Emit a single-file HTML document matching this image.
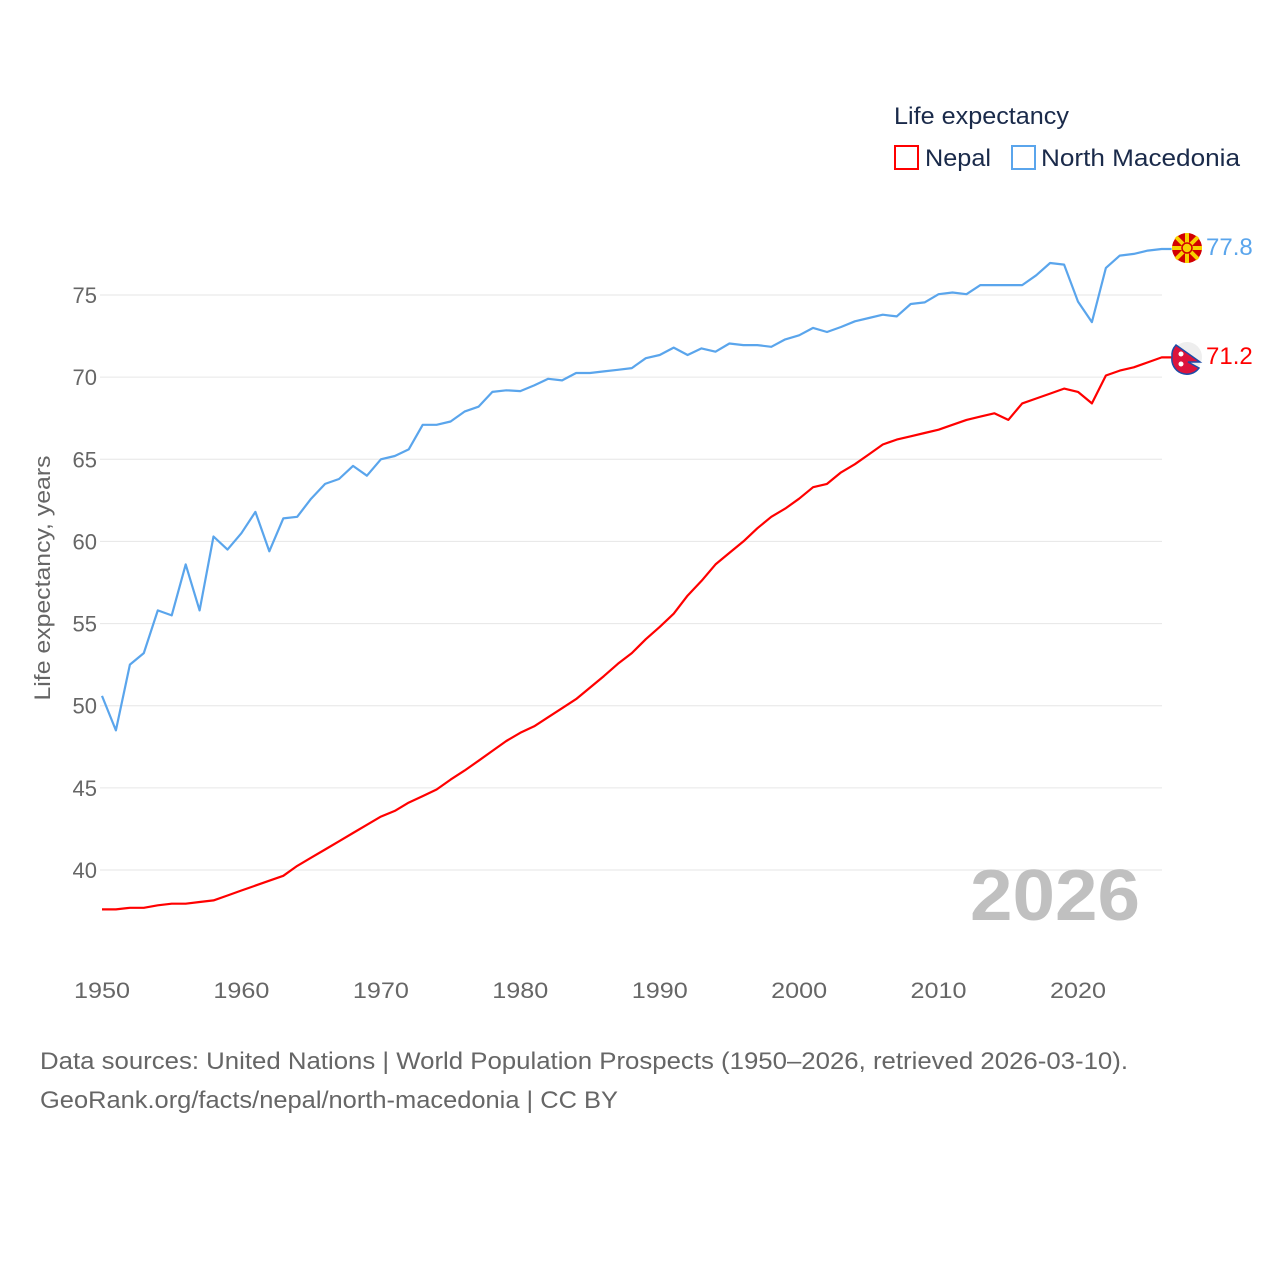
<!DOCTYPE html>
<html><head><meta charset="utf-8"><style>
body{margin:0;background:#fff;font-family:"Liberation Sans",sans-serif;}
</style></head><body>
<svg width="1280" height="1280" xmlns="http://www.w3.org/2000/svg" style="font-family:'Liberation Sans',sans-serif">
<g id="grid"></g>
<g id="yt" font-size="22" fill="#666" text-anchor="end"></g>
<g id="xt" font-size="22" fill="#666" text-anchor="middle"></g>
<text transform="translate(50,578) rotate(-90)" text-anchor="middle" font-size="22" fill="#666" textLength="245" lengthAdjust="spacingAndGlyphs">Life expectancy, years</text>
<text x="970" y="920" font-size="72" font-weight="bold" fill="#c0c0c0" textLength="170" lengthAdjust="spacingAndGlyphs">2026</text>
<g id="lines"></g>
<g>
<text x="894" y="124" font-size="24" fill="#1a2a4a" textLength="175" lengthAdjust="spacingAndGlyphs">Life expectancy</text>
<rect x="895" y="146" width="23" height="23" fill="none" stroke="#f00" stroke-width="2"/>
<text x="925" y="166" font-size="24" fill="#1a2a4a" textLength="66" lengthAdjust="spacingAndGlyphs">Nepal</text>
<rect x="1012" y="146" width="23" height="23" fill="none" stroke="#5aa5ec" stroke-width="2"/>
<text x="1041" y="166" font-size="24" fill="#1a2a4a" textLength="199" lengthAdjust="spacingAndGlyphs">North Macedonia</text>
</g>
<g>
<circle cx="1187" cy="248" r="15" fill="#d20000"/>
<g stroke="#f8d000" stroke-width="4">
<line x1="1172" y1="248" x2="1202" y2="248"/><line x1="1187" y1="233" x2="1187" y2="263"/>
<line x1="1176" y1="237" x2="1198" y2="259"/><line x1="1198" y1="237" x2="1176" y2="259"/></g>
<circle cx="1187" cy="248" r="5" fill="#f8d000" stroke="#d20000" stroke-width="1.5"/>
</g>
<g>
<circle cx="1187" cy="357" r="15" fill="#eee"/>
<path d="M1176,345 L1200,362 L1188,362 L1199,368 A15,15 0 0 1 1172,357 A15,15 0 0 1 1176,345Z" fill="#dc143c" stroke="#1d4ca8" stroke-width="1.5"/>
<circle cx="1181" cy="354" r="2.5" fill="#fff"/><circle cx="1181" cy="364" r="2.5" fill="#fff"/>
</g>
<text x="1206" y="255" font-size="24" fill="#5aa5ec">77.8</text>
<text x="1206" y="364" font-size="24" fill="#f00">71.2</text>
<text x="40" y="1069" font-size="24" fill="#666" textLength="1088" lengthAdjust="spacingAndGlyphs">Data sources: United Nations | World Population Prospects (1950–2026, retrieved 2026-03-10).</text>
<text x="40" y="1108" font-size="24" fill="#666" textLength="578" lengthAdjust="spacingAndGlyphs">GeoRank.org/facts/nepal/north-macedonia | CC BY</text>
</svg>
<script>
const years=[];for(let y=1950;y<=2026;y++)years.push(y);
const macedonia=[50.6,48.5,52.5,53.2,55.8,55.5,58.6,55.8,60.3,59.5,60.5,61.8,59.4,61.4,61.5,62.6,63.5,63.8,64.6,64.0,65.0,65.2,65.6,67.1,67.1,67.3,67.9,68.2,69.1,69.2,69.15,69.5,69.9,69.8,70.25,70.25,70.35,70.45,70.55,71.15,71.35,71.8,71.35,71.75,71.55,72.05,71.95,71.95,71.85,72.3,72.55,73.0,72.75,73.05,73.4,73.6,73.8,73.7,74.45,74.55,75.05,75.15,75.05,75.6,75.6,75.6,75.6,76.2,76.95,76.85,74.6,73.35,76.65,77.4,77.5,77.7,77.8];
const nepal=[37.6,37.6,37.7,37.7,37.85,37.95,37.95,38.05,38.15,38.45,38.75,39.05,39.35,39.65,40.25,40.75,41.25,41.75,42.25,42.75,43.25,43.6,44.1,44.5,44.9,45.5,46.05,46.65,47.25,47.85,48.35,48.75,49.3,49.85,50.4,51.1,51.8,52.55,53.2,54.05,54.8,55.6,56.7,57.6,58.6,59.3,60.0,60.8,61.5,62.0,62.6,63.3,63.5,64.2,64.7,65.3,65.9,66.2,66.4,66.6,66.8,67.1,67.4,67.6,67.8,67.4,68.4,68.7,69.0,69.3,69.1,68.4,70.1,70.4,70.6,70.9,71.2];
const yTicks=[40,45,50,55,60,65,70,75];
const xTicks=[1950,1960,1970,1980,1990,2000,2010,2020];
const NS="http://www.w3.org/2000/svg";
const X=y=>102+(y-1950)*(1078-102)/70;
const Y=v=>870-(v-40)*(870-295)/35;
function mk(t,a,p){const e=document.createElementNS(NS,t);for(const k in a)e.setAttribute(k,a[k]);p.appendChild(e);return e;}
const grid=document.getElementById('grid'),yt=document.getElementById('yt'),xt=document.getElementById('xt'),lines=document.getElementById('lines');
yTicks.forEach(v=>{
const l=mk('line',{x1:100,x2:1162,y1:Y(v),y2:Y(v),stroke:'#e6e6e6','stroke-width':1},grid);


const t=mk('text',{x:97,y:Y(v)+8},yt);t.textContent=v;


});
xTicks.forEach(v=>{
const t=mk('text',{x:X(v),y:998,textLength:56,lengthAdjust:'spacingAndGlyphs'},xt);t.textContent=v;


});
function line(vals,color,name){
const d=vals.map((v,i)=>(i?'L':'M')+X(years[i]).toFixed(1)+','+Y(v).toFixed(1)).join(' ')+' L'+(X(2026)+10)+','+Y(vals[vals.length-1]).toFixed(1);
const p=mk('path',{d:d,fill:'none',stroke:color,'stroke-width':2.2,'stroke-linejoin':'round'},lines);


}
line(macedonia,'#5aa5ec','line-north-macedonia');
line(nepal,'#f00','line-nepal');
</script>
</body></html>
